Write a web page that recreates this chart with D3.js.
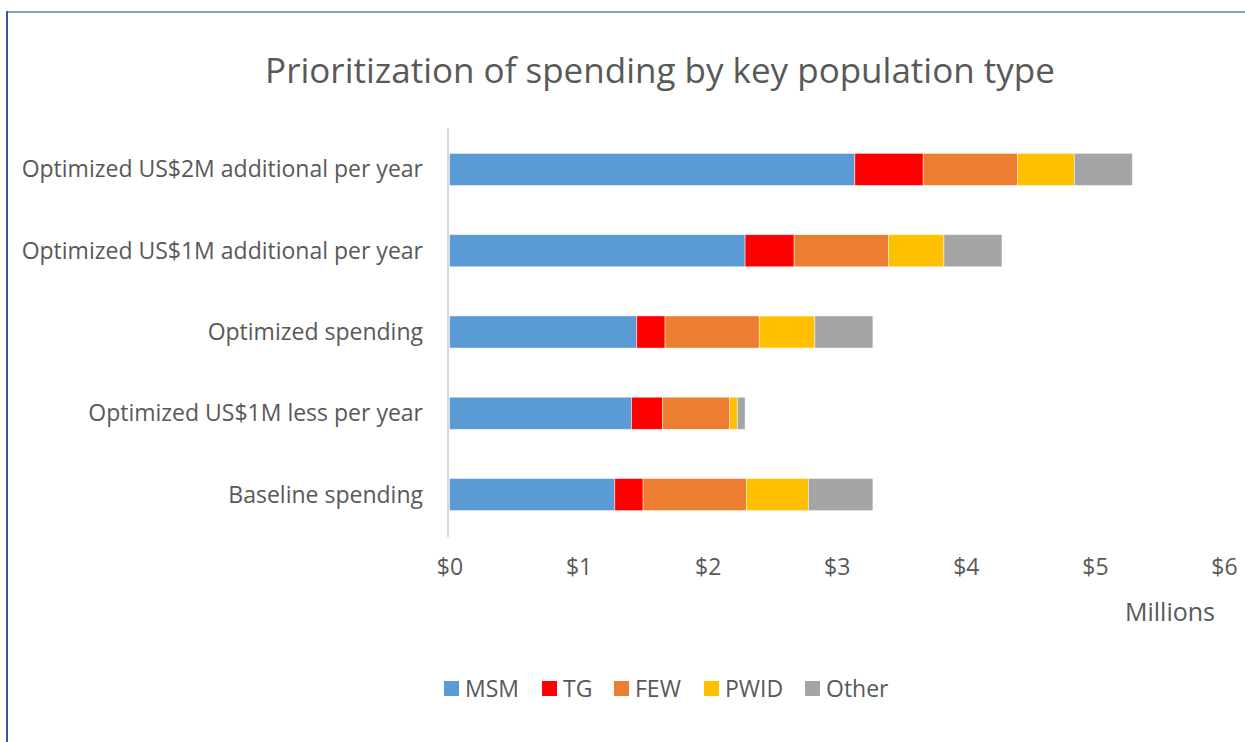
<!DOCTYPE html>
<html>
<head>
<meta charset="utf-8">
<script src="https://cdn.jsdelivr.net/npm/d3@7"></script>
<style>
  html, body { margin: 0; padding: 0; background: #fff; }
  svg { display: block; font-family: "Open Sans", Lato, sans-serif; }
</style>
</head>
<body>
<svg id="chart" width="1245" height="742"></svg>
<script>
// Scenarios, top to bottom
const categories = [
  "Optimized US$2M additional per year",
  "Optimized US$1M additional per year",
  "Optimized spending",
  "Optimized US$1M less per year",
  "Baseline spending"
];
// Spending per key population (US$ millions)
const seriesNames = ["MSM", "TG", "FEW", "PWID", "Other"];
const msm   = [3.14, 2.29, 1.45, 1.41, 1.28];
const tg    = [0.53, 0.38, 0.22, 0.24, 0.22];
const few   = [0.73, 0.73, 0.73, 0.52, 0.80];
const pwid  = [0.44, 0.43, 0.43, 0.06, 0.48];
const other = [0.45, 0.45, 0.45, 0.06, 0.50];
const colors = ["#5b9bd5", "#ff0000", "#ed7d31", "#ffc000", "#a5a5a5"];
const tickValues = [0, 1, 2, 3, 4, 5, 6];

const rows = categories.map((c, i) => ({
  category: c, MSM: msm[i], TG: tg[i], FEW: few[i], PWID: pwid[i], Other: other[i]
}));

const svg = d3.select("#chart");
const textColor = "#595959";
const fontFamily = "'Open Sans', Lato, sans-serif";

// chart frame
svg.append("line").attr("x1", 7).attr("x2", 1245).attr("y1", 12).attr("y2", 12)
  .attr("stroke", "#8e9cc8").attr("stroke-width", 2);
svg.append("line").attr("x1", 7).attr("x2", 7).attr("y1", 11).attr("y2", 742)
  .attr("stroke", "#3f51a0").attr("stroke-width", 2);

// title
svg.append("text")
  .attr("x", 660).attr("y", 83)
  .attr("text-anchor", "middle")
  .attr("fill", textColor)
  .attr("font-size", 35)
  .text("Prioritization of spending by key population type");

const x = d3.scaleLinear().domain([0, 6]).range([449.5, 1224]);
const y = d3.scaleBand().domain(categories).range([129, 535]).paddingInner(0.605).paddingOuter(0.3);

const stack = d3.stack().keys(seriesNames);
const layers = stack(rows);

svg.append("g").selectAll("g")
  .data(layers)
  .join("g")
  .attr("fill", (d, i) => colors[i])
  .selectAll("rect")
  .data(d => d)
  .join("rect")
  .attr("x", d => x(d[0]))
  .attr("y", d => y(d.data.category))
  .attr("width", d => x(d[1]) - x(d[0]))
  .attr("height", y.bandwidth())
  .attr("stroke", "#ffffff")
  .attr("stroke-opacity", 0.6)
  .attr("stroke-width", 0.8);

// vertical category axis line
svg.append("line")
  .attr("x1", 448).attr("x2", 448).attr("y1", 128).attr("y2", 537)
  .attr("stroke", "#d9d9d9").attr("stroke-width", 2);

// category labels
svg.append("g").selectAll("text")
  .data(categories)
  .join("text")
  .attr("x", 423)
  .attr("y", d => y(d) + y.bandwidth() / 2)
  .attr("dy", "0.35em")
  .attr("text-anchor", "end")
  .attr("fill", textColor)
  .attr("font-size", 23)
  .text(d => d);

// value axis (no line, no ticks)
const xAxis = d3.axisBottom(x).tickValues(tickValues).tickSize(0).tickFormat(d => "$" + d);
const gx = svg.append("g").attr("transform", "translate(0,556)").call(xAxis);
gx.select(".domain").remove();
gx.selectAll("text").attr("fill", textColor).attr("font-size", 23)
  .attr("font-family", fontFamily).attr("dy", "0.71em");

svg.append("text")
  .attr("x", 1170).attr("y", 621)
  .attr("text-anchor", "middle")
  .attr("fill", textColor)
  .attr("font-size", 25)
  .text("Millions");

// legend
const legendX = [444, 542, 614, 704, 805];
const lg = svg.append("g").selectAll("g")
  .data(seriesNames)
  .join("g")
  .attr("transform", (d, i) => `translate(${legendX[i]},681)`);
lg.append("rect").attr("width", 15).attr("height", 15).attr("fill", (d, i) => colors[i]);
lg.append("text").attr("x", 21).attr("y", 7.5).attr("dy", "0.36em")
  .attr("fill", textColor).attr("font-size", 23).text(d => d);
</script>
</body>
</html>
